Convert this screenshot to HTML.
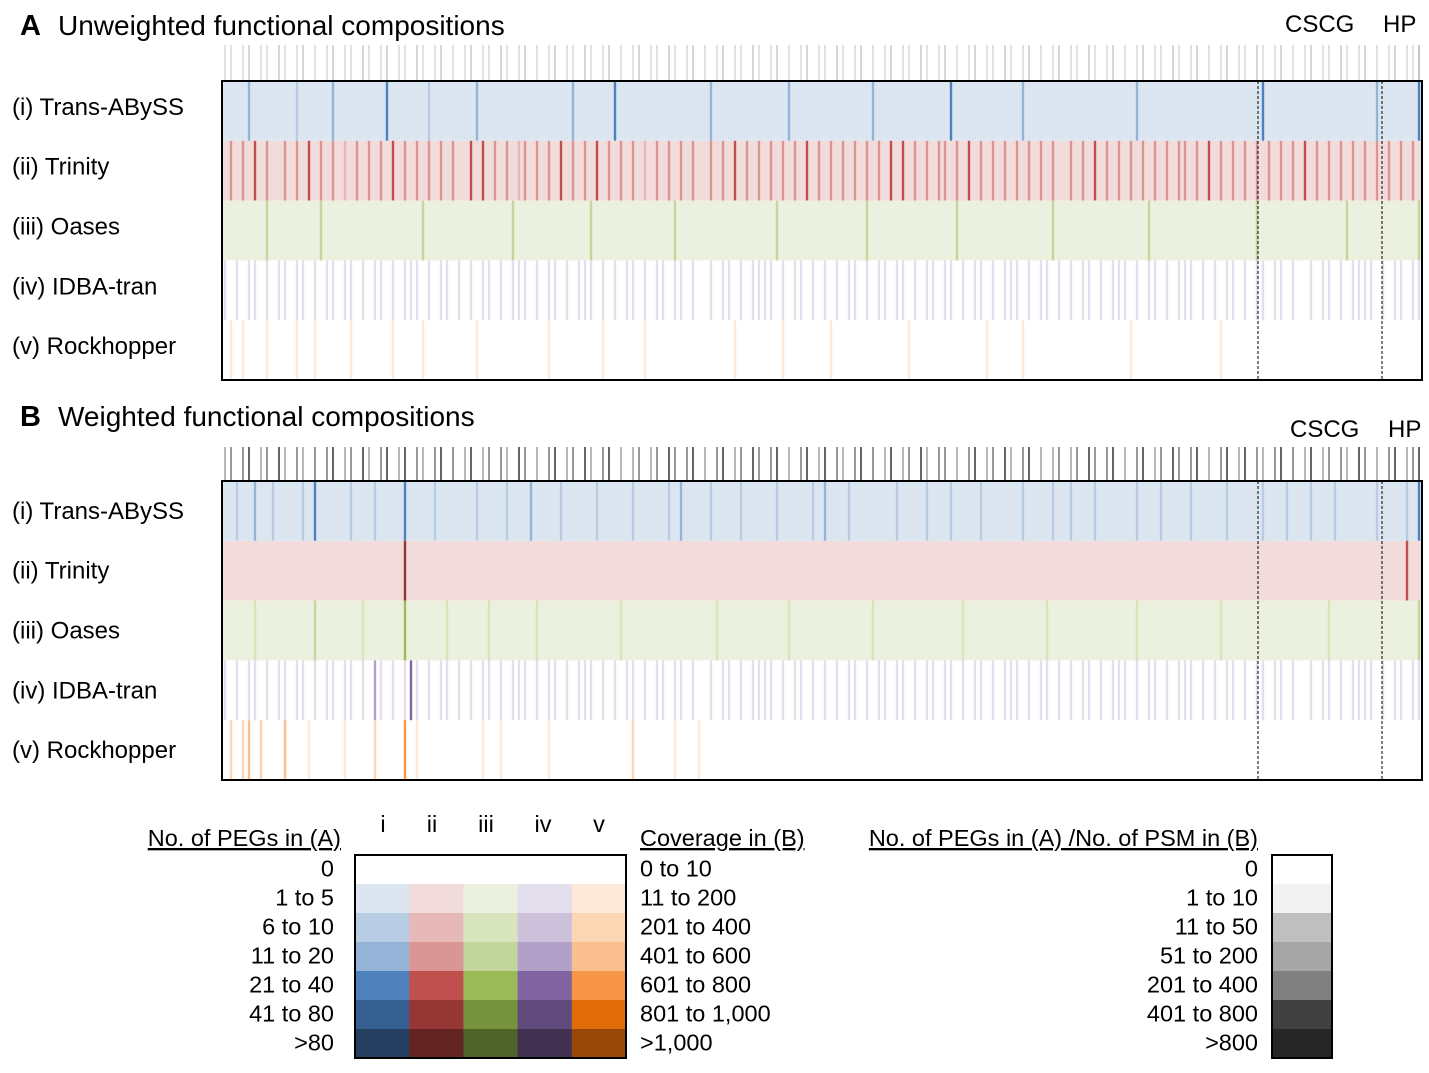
<!DOCTYPE html>
<html><head><meta charset="utf-8">
<style>
html,body{margin:0;padding:0;background:#fff;}
svg{display:block;font-family:"Liberation Sans",Arial,sans-serif;}
</style></head>
<body>
<svg id="fig" width="1429" height="1073" viewBox="0 0 1429 1073" xmlns="http://www.w3.org/2000/svg">
<g id="panelA"></g>
<g id="panelB"></g>
<g id="legend"></g>
</svg>
<script>
// ---- data: levels per function (0 = none, 1..6 = legend bins) ----
const rowNames = ["(i)  Trans-ABySS","(ii)  Trinity","(iii) Oases","(iv) IDBA-tran","(v)  Rockhopper"];
const A_i   = "1111311111 1121111131 1111111411 1111211111 1131111111 1111111131 1111141111 1111111111 1311111111 1111311111 1111111131 1111111111 1411111111 1113111111 1111111111 1131111111 1111111111 1114111111 1111111111 1131111114";
const A_ii  = "1313141311 3131413131 2131313141 3131313131 1414131312 3131314131 3141313131 2131313131 1313141313 1313131413 1313131313 1414131313 3131413131 3131313131 1313141313 1313131313 3131413131 3131313131 4131313131 3131313131";
const A_iii = "1111111311 1111113111 1111111111 1113111111 1111111131 1111111111 1311111111 1111131111 1111111111 1131111111 1111111311 1111111111 1131111111 1111111131 1111111111 1111311111 1111111111 1131111111 1111111311 1111111113";
const A_iv  = "1010110101 1011010110 1101011010 1110101101 0101101011 1010110101 1101010110 1011011010 0101101011 1101011010 1010110101 1011010110 1101011010 1110101101 0101101011 1010110101 1101010110 1011011010 0101101011 1101011011";
const A_v   = "0101000100 0010010000 0100000010 0001000000 0010000000 0000100000 0001000000 1000000000 0000010000 0001000000 0100000000 0000100000 0000000100 0001000000 0000000000 0100000000 0000001000 0000000000 0000000000 0000000000";
const A_top = "1101201102 1012010120 1102101201 1021012010 1201102101 2010120110 2101201012 0110210120 1012011021 0120101201 1021012010 1201102101 2010120110 2101201012 0110210120 1012011021 0120101201 1021012010 1201102101 2010120113";
const B_i   = "1121131121 1112141111 1211121111 4111121111 1121111211 1311112111 1121111121 1111213111 1211112111 1121111121 3111211111 1121111211 1211112111 1112111121 1211121111 1121112111 1211111211 1112111211 1211121111 1121111214";
const B_ii  = "1111111111 1111111111 1111111111 5111111111 1111111111 1111111111 1111111111 1111111111 1111111111 1111111111 1111111111 1111111111 1111111111 1111111111 1111111111 1111111111 1111111111 1111111111 1111111111 1111111411";
const B_iii = "1111121111 1111131111 1112111111 4111111211 1111211111 1121111111 1111112111 1111111111 1121111111 1111211111 1111111121 1111111111 1112111111 1111111211 1111111111 1121111111 1111112111 1111111111 1111211111 1111111113";
const B_iv  = "1010110101 1011010110 1101031010 1410101101 0101101011 1010110101 1101010110 1011011010 0101101011 1101011010 1010110101 1011010110 1101011010 1110101101 0101101011 1010110101 1101010110 1011011010 0101101011 1101011011";
const B_v   = "0202302000 3000100000 1000020000 4010000000 0001001000 0000100000 0000000020 0000010001 0000000000 0000000000 0000000000 0000000000 0000000000 0000000000 0000000000 0000000000 0000000000 0000000000 0000000000 0000000000";
const B_top = "2303402304 2032030340 2304203402 4032034030 2402303204 3020340230 4203402023 0230430340 2034023043 0340203402 4032034030 2402304203 3020340230 4203402023 0230430340 2034023043 0340203402 4032034030 2402303204 3020340234";
// ---- legend data ----
const pegBins = ["0","1 to 5","6 to 10","11 to 20","21 to 40","41 to 80",">80"];
const covBins = ["0 to 10","11 to 200","201 to 400","401 to 600","601 to 800","801 to 1,000",">1,000"];
const ratioBins = ["0","1 to 10","11 to 50","51 to 200","201 to 400","401 to 800",">800"];
const colLabels = ["i","ii","iii","iv","v"];
const palettes = [
 ["#ffffff","#dce6f1","#b8cce4","#95b3d7","#4f81bd","#366092","#243f60"],
 ["#ffffff","#f2dcdb","#e6b9b8","#da9694","#c0504d","#953735","#632523"],
 ["#ffffff","#ebf1de","#d7e4bc","#c3d69b","#9bbb59","#76923c","#4f6228"],
 ["#ffffff","#e4dfec","#ccc0da","#b1a0c7","#8064a2","#604a7b","#403151"],
 ["#ffffff","#fde9d9","#fcd5b4","#fabf8f","#f79646","#e26b0a","#974706"]];
const grays = ["#ffffff","#f2f2f2","#bfbfbf","#a6a6a6","#808080","#404040","#262626"];

const NS="http://www.w3.org/2000/svg";
function mk(tag, attrs, parent){const e=document.createElementNS(NS,tag);for(const k in attrs)e.setAttribute(k,attrs[k]);parent.appendChild(e);return e;}
function parse(s){return s.replace(/ /g,'').split('').map(Number);}
const X0=222, X1=1422;
function xScale(i,n){return X0+(X1-X0)*i/n;}

function drawPanel(g, letter, title, titleY, topY, boxY, rows, top, labelsY, labShift, topOpacity){
  const t=mk('text',{x:20,y:titleY,'font-size':29,'font-weight':'bold'},g);t.textContent=letter;
  
  
  const tt=mk('text',{x:58,y:titleY,'font-size':28},g);tt.textContent=title;
  
  
  const c1=mk('text',{x:labelsY[0],y:labelsY[2],'font-size':24},g);c1.textContent="CSCG";
  
  
  const c2=mk('text',{x:labelsY[1],y:labelsY[2],'font-size':24},g);c2.textContent="HP";
  
  
  const tv=parse(top), n=tv.length, w=(X1-X0)/n;
  tv.forEach((v,i)=>{ if(v>0){
    const r=mk('rect',{x:xScale(i,n)+w/2-1,y:topY,width:2,height:boxY-topY,fill:grays[Math.min(v+1,6)],opacity:topOpacity},g);
    
    
  }});
  const rh=59.8;
  rows.forEach((s,ri)=>{
    const vals=parse(s), m=vals.length, cw=(X1-X0)/m, y=boxY+ri*rh, pal=palettes[ri];
    const lab=mk('text',{x:12,y:y+rh/2+8+labShift,'font-size':24,'xml:space':'preserve'},g);lab.textContent=rowNames[ri];
    
    
    if(ri<3){const bg=mk('rect',{x:X0,y:y,width:X1-X0,height:rh,fill:pal[1]},g);
      
      }
    vals.forEach((v,i)=>{
      if(v===0 || (v===1 && ri<3)) return;
      const r=mk('rect',{x:xScale(i,m)+cw/2-1.2,y:y,width:2.4,height:rh,fill:pal[v]},g);
      
      
    });
  });
  const box=mk('rect',{x:X0,y:boxY,width:X1-X0,height:rh*5,fill:'none',stroke:'#000','stroke-width':2},g);
  
  
  [1258,1382].forEach(x=>{const l=mk('line',{x1:x,x2:x,y1:boxY,y2:boxY+rh*5,stroke:'#000','stroke-width':1,'stroke-dasharray':'3,2'},g);
    
    });
}
drawPanel(document.getElementById('panelA'),"A","Unweighted functional compositions",35,45,81,[A_i,A_ii,A_iii,A_iv,A_v],A_top,[1285,1383,32],-4,0.45);
drawPanel(document.getElementById('panelB'),"B","Weighted functional compositions",426,447,481,[B_i,B_ii,B_iii,B_iv,B_v],B_top,[1290,1388,437],0,0.8);

// legend
const L=document.getElementById('legend');
function txt(x,y,s,anchor,extra){const e=mk('text',Object.assign({x:x,y:y,'font-size':23.5,'text-anchor':anchor||'start'},extra||{}),L);e.textContent=s;return e;}
let h=txt(341,846,"No. of PEGs in (A)","end",{'text-decoration':'underline'});


h=txt(640,846,"Coverage in (B)","start",{'text-decoration':'underline'});


h=txt(1258,846,"No. of PEGs in (A) /No. of PSM in (B)","end",{'text-decoration':'underline'});


const colX=[383,432,486,543,599];
colLabels.forEach((c,i)=>{const e=txt(colX[i],832,c,"middle");
  
  });
const ly0=855, lrh=29, lx0=355, lcw=54.2;
pegBins.forEach((s,k)=>{
  const cy=ly0+k*lrh+lrh/2+7;
  let e=txt(334,cy,s,"end");
  
  
  e=txt(640,cy,covBins[k]);
  
  
  e=txt(1258,cy,ratioBins[k],"end");
  
  
  palettes.forEach((p,ci)=>{
    const r=mk('rect',{x:lx0+ci*lcw,y:ly0+k*lrh,width:lcw+0.5,height:lrh+0.5,fill:p[k]},L);
    
    
  });
  const g=mk('rect',{x:1272,y:ly0+k*lrh,width:60,height:lrh+0.5,fill:grays[k]},L);
  
  
});
let fr=mk('rect',{x:lx0,y:ly0,width:lcw*5,height:lrh*7,fill:'none',stroke:'#000','stroke-width':2},L);


fr=mk('rect',{x:1272,y:ly0,width:60,height:lrh*7,fill:'none',stroke:'#000','stroke-width':2},L);


</script>
</body></html>
